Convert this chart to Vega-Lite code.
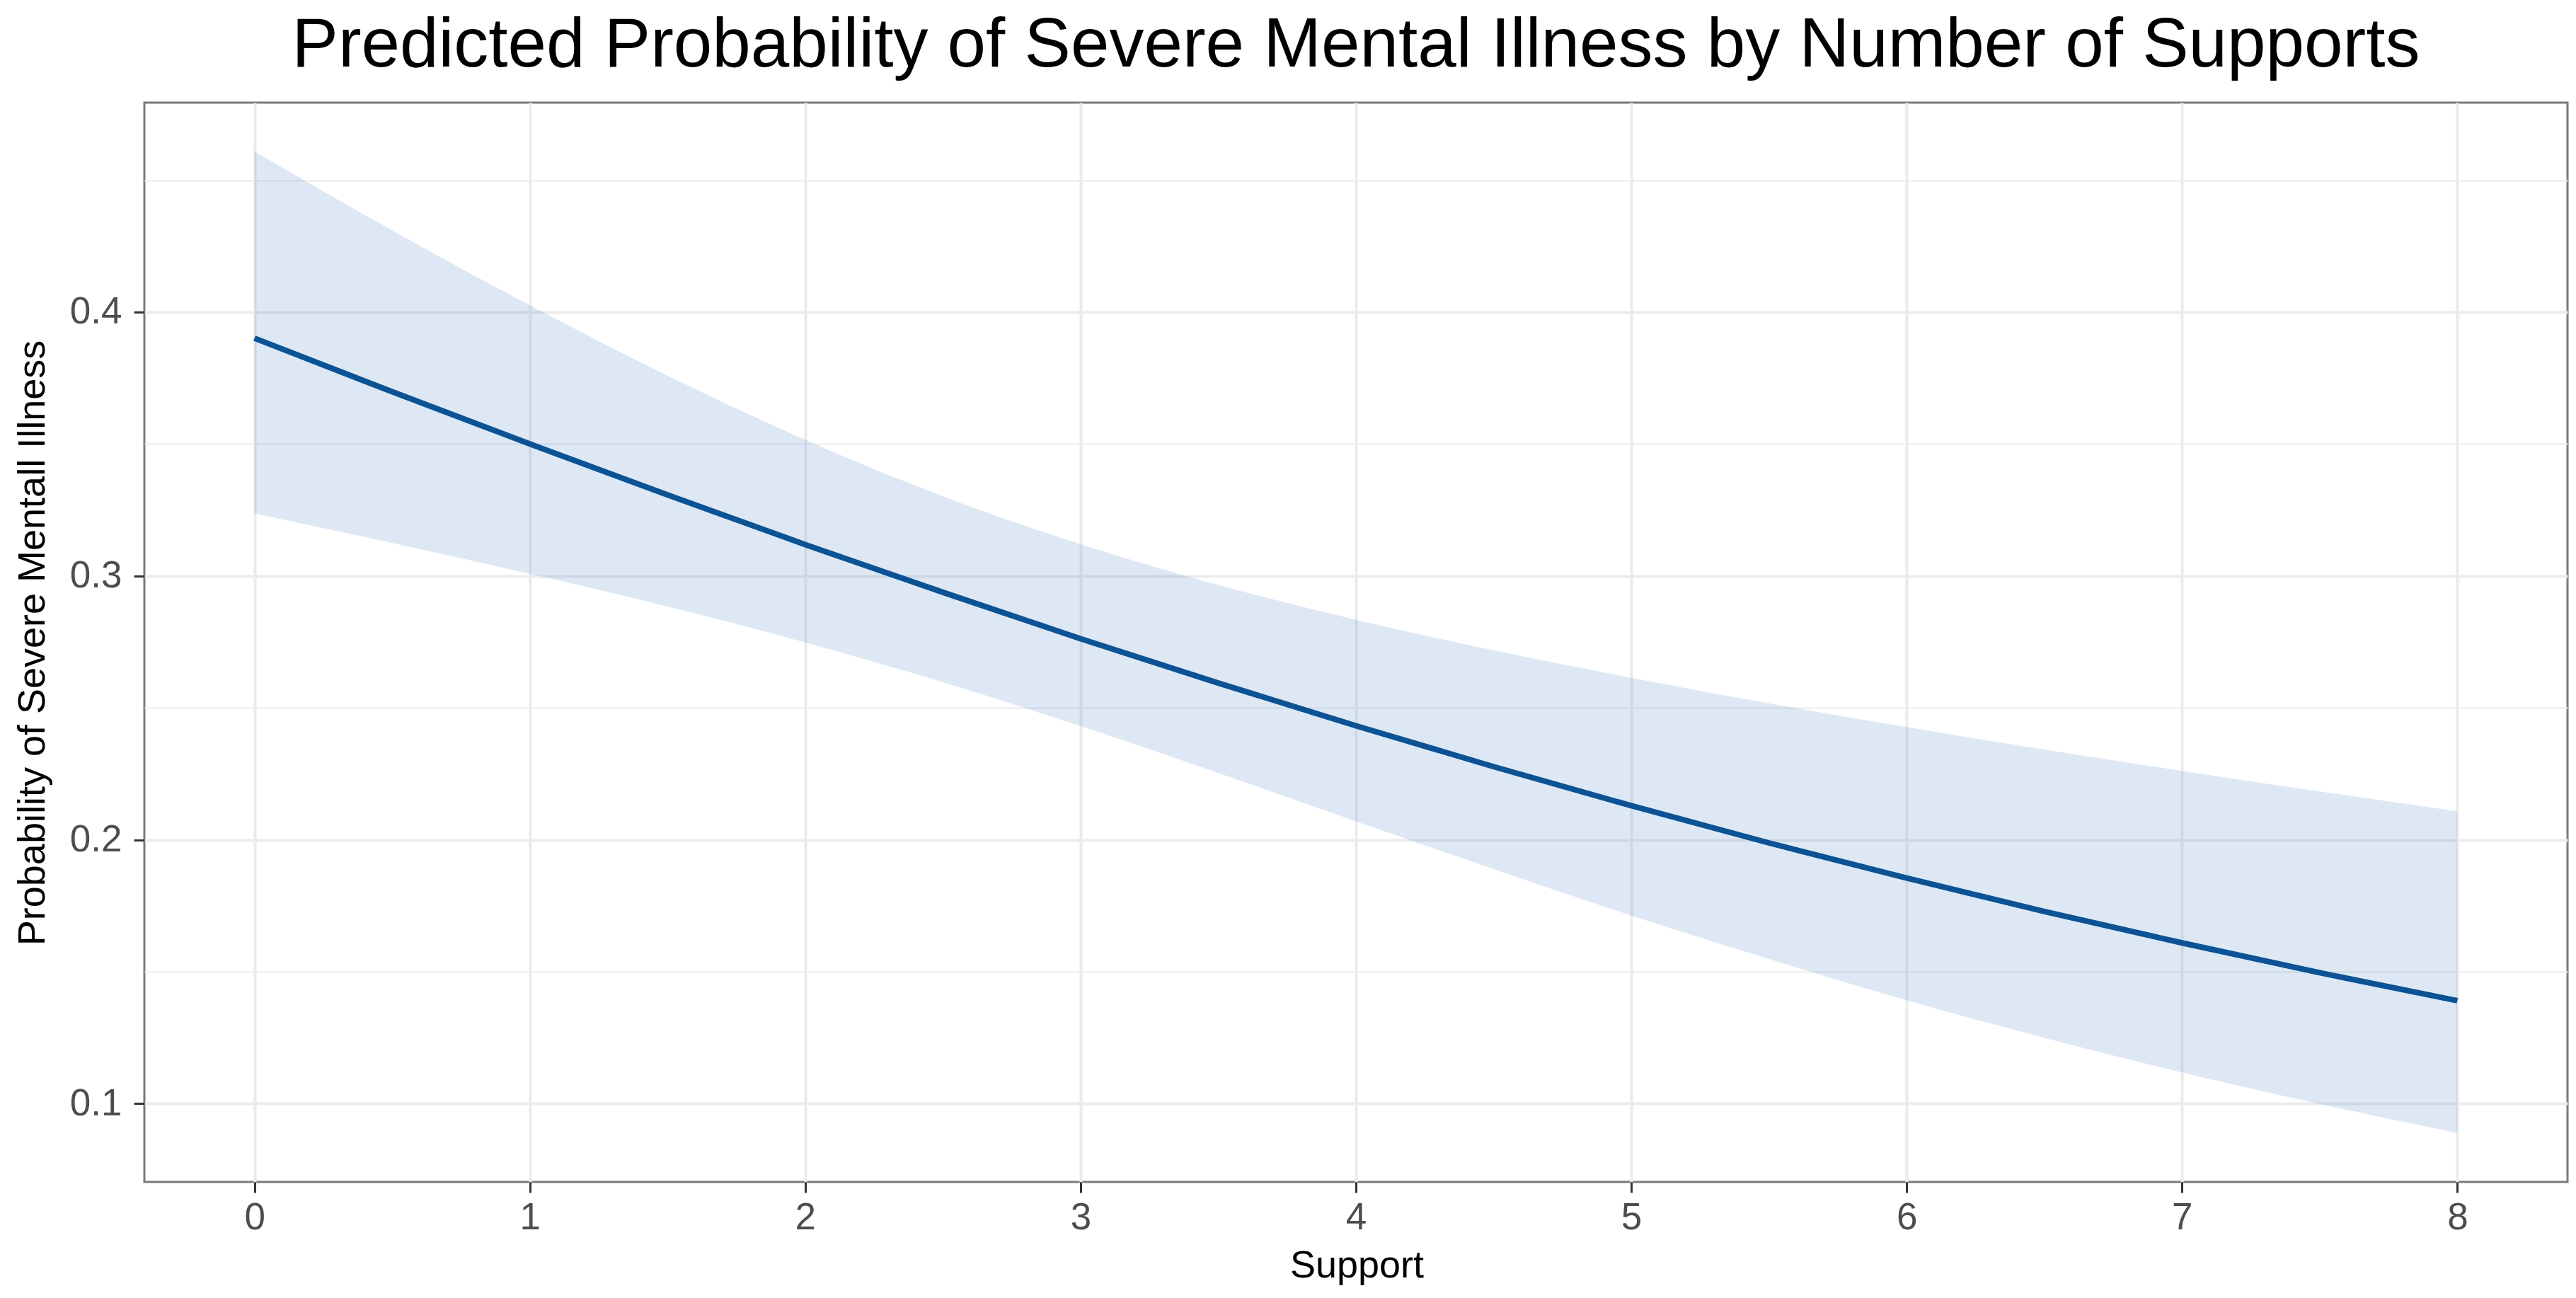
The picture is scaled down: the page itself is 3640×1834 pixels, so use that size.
{
  "$schema": "https://vega.github.io/schema/vega-lite/v6.json",
  "width": 3424,
  "height": 1525,
  "autosize": {"type": "none"},
  "padding": {"left": 204, "top": 145, "right": 12, "bottom": 164},
  "background": "white",
  "title": {
    "text": "Predicted Probability of Severe Mental Illness by Number of Supports",
    "font": "Liberation Sans",
    "fontSize": 98,
    "fontWeight": "normal",
    "color": "black",
    "anchor": "middle",
    "offset": 30
  },
  "config": {
    "view": {"stroke": "#7a7a7a", "strokeWidth": 3},
    "axis": {
      "domain": false,
      "labelFont": "Liberation Sans",
      "labelFontSize": 53,
      "labelColor": "#4d4d4d",
      "titleFont": "Liberation Sans",
      "titleFontSize": 54,
      "titleFontWeight": "normal",
      "titleColor": "black",
      "tickColor": "#333333",
      "tickWidth": 3,
      "tickSize": 15,
      "gridColor": "#ebebeb"
    }
  },
  "data": {
    "values": [
      {"support": 0, "prob": 0.3901, "lower": 0.3237, "upper": 0.4608},
      {"support": 0.5, "prob": 0.3698, "lower": 0.3125, "upper": 0.4310},
      {"support": 1, "prob": 0.3500, "lower": 0.3008, "upper": 0.4026},
      {"support": 1.5, "prob": 0.3307, "lower": 0.2884, "upper": 0.3759},
      {"support": 2, "prob": 0.3119, "lower": 0.2748, "upper": 0.3516},
      {"support": 2.5, "prob": 0.2938, "lower": 0.2597, "upper": 0.3302},
      {"support": 3, "prob": 0.2762, "lower": 0.2431, "upper": 0.3120},
      {"support": 3.5, "prob": 0.2594, "lower": 0.2253, "upper": 0.2966},
      {"support": 4, "prob": 0.2432, "lower": 0.2070, "upper": 0.2834},
      {"support": 4.5, "prob": 0.2277, "lower": 0.1889, "upper": 0.2718},
      {"support": 5, "prob": 0.2129, "lower": 0.1713, "upper": 0.2614},
      {"support": 5.5, "prob": 0.1988, "lower": 0.1548, "upper": 0.2517},
      {"support": 6, "prob": 0.1855, "lower": 0.1392, "upper": 0.2427},
      {"support": 6.5, "prob": 0.1728, "lower": 0.1249, "upper": 0.2342},
      {"support": 7, "prob": 0.1609, "lower": 0.1118, "upper": 0.2261},
      {"support": 7.5, "prob": 0.1496, "lower": 0.0998, "upper": 0.2183},
      {"support": 8, "prob": 0.1390, "lower": 0.0889, "upper": 0.2108}
    ]
  },
  "layer": [
    {
      "mark": {"type": "area", "color": "#5a8ccd", "opacity": 0.2, "interpolate": "monotone"},
      "encoding": {
        "x": {
          "field": "support",
          "type": "quantitative",
          "scale": {"domain": [-0.4, 8.4], "nice": false, "zero": false},
          "axis": {
            "title": "Support",
            "values": [0, 0.5, 1, 1.5, 2, 2.5, 3, 3.5, 4, 4.5, 5, 5.5, 6, 6.5, 7, 7.5, 8],
            "format": "d",
            "labelExpr": "datum.value % 1 === 0 ? datum.label : ''",
            "gridWidth": {"condition": {"test": "datum.value % 1 === 0", "value": 4}, "value": 2},
            "tickOpacity": {"condition": {"test": "datum.value % 1 === 0", "value": 1}, "value": 0},
            "labelPadding": 9,
            "titleX": 1713,
            "titleY": 118,
            "titleBaseline": "middle",
            "titleAlign": "center"
          }
        },
        "y": {
          "field": "lower",
          "type": "quantitative",
          "scale": {"domain": [0.0703, 0.4794], "nice": false, "zero": false},
          "axis": {
            "title": "Probability of Severe Mentall Illness",
            "values": [0.1, 0.15, 0.2, 0.25, 0.3, 0.35, 0.4, 0.45],
            "format": ".1f",
            "labelExpr": "abs(datum.value * 10 - round(datum.value * 10)) < 0.001 ? datum.label : ''",
            "gridWidth": {"condition": {"test": "abs(datum.value * 10 - round(datum.value * 10)) < 0.001", "value": 4}, "value": 2},
            "tickOpacity": {"condition": {"test": "abs(datum.value * 10 - round(datum.value * 10)) < 0.001", "value": 1}, "value": 0},
            "labelPadding": 17,
            "titleX": -158,
            "titleY": 763,
            "titleAngle": 270,
            "titleBaseline": "middle",
            "titleAlign": "center"
          }
        },
        "y2": {"field": "upper"}
      }
    },
    {
      "mark": {"type": "line", "color": "#0b5394", "strokeWidth": 8, "interpolate": "monotone"},
      "encoding": {
        "x": {"field": "support", "type": "quantitative"},
        "y": {"field": "prob", "type": "quantitative"}
      }
    }
  ]
}
